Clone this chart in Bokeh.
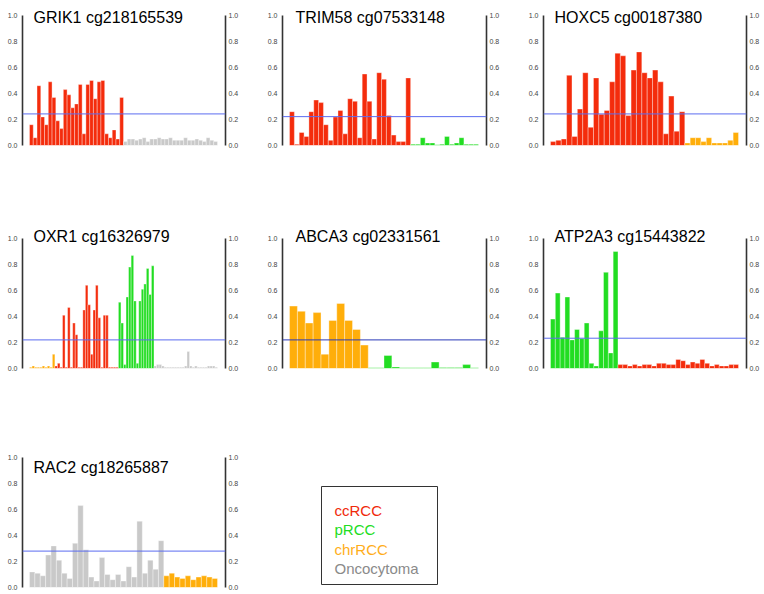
from bokeh.plotting import figure
from bokeh.models import Range1d, LinearAxis, FixedTicker, NumeralTickFormatter, Span, Label, ColumnDataSource
from bokeh.layouts import gridplot
from bokeh.embed import file_html
from bokeh.resources import INLINE

# ---------------- data ----------------
group_names = ["ccRCC", "pRCC", "chrRCC", "Oncocytoma"]
y_ticks = [0.0, 0.2, 0.4, 0.6, 0.8, 1.0]

grik1_cc = [0.16, 0.06, 0.46, 0.22, 0.16, 0.49, 0.37, 0.19, 0.13, 0.43, 0.39, 0.29, 0.32,
            0.47, 0.09, 0.47, 0.50, 0.36, 0.49, 0.50, 0.09, 0.06, 0.12, 0.05, 0.37]
grik1_onc = [0.03, 0.05, 0.05, 0.04, 0.05, 0.06, 0.03, 0.05, 0.05, 0.06, 0.05, 0.05, 0.06,
             0.04, 0.04, 0.04, 0.06, 0.04, 0.04, 0.05, 0.04, 0.03, 0.06, 0.04, 0.03]

trim58_cc = [0.26, 0.01, 0.10, 0.07, 0.26, 0.35, 0.33, 0.16, 0.04, 0.22, 0.27, 0.09, 0.36,
             0.34, 0.06, 0.55, 0.34, 0.05, 0.56, 0.51, 0.23, 0.08, 0.03, 0.03, 0.52]
trim58_p = [0.01, 0.01, 0.06, 0.02, 0.02, 0.005, 0.01, 0.07, 0.01, 0.02, 0.06, 0.01, 0.01, 0.01]

hoxc5_cc = [0.03, 0.04, 0.05, 0.54, 0.07, 0.28, 0.56, 0.14, 0.52, 0.24, 0.27, 0.49, 0.71,
            0.69, 0.23, 0.58, 0.72, 0.56, 0.52, 0.58, 0.49, 0.09, 0.38, 0.11, 0.26]
hoxc5_chr = [0.02, 0.06, 0.06, 0.03, 0.06, 0.02, 0.02, 0.02, 0.04, 0.10]

oxr1_chr = [0.01, 0.02, 0.01, 0.01, 0.01, 0.02, 0.01, 0.02, 0.01, 0.11]
oxr1_cc = [0.02, 0.04, 0.01, 0.41, 0.01, 0.47, 0.01, 0.35, 0.26, 0.01, 0.01, 0.45, 0.64,
           0.49, 0.11, 0.45, 0.64, 0.39, 0.01, 0.41, 0.41, 0.01, 0.01, 0.01, 0.01]
oxr1_p = [0.51, 0.35, 0.03, 0.55, 0.78, 0.87, 0.52, 0.04, 0.52, 0.61, 0.65, 0.77, 0.57, 0.79]
oxr1_onc = [0.02, 0.03, 0.03, 0.02, 0.01, 0.01, 0.01, 0.01, 0.01, 0.01, 0.01, 0.01, 0.02,
            0.13, 0.02, 0.01, 0.02, 0.01, 0.01, 0.01, 0.01, 0.02, 0.02, 0.02, 0.01]

abca3_chr = [0.48, 0.44, 0.35, 0.43, 0.11, 0.37, 0.50, 0.37, 0.30, 0.18]
abca3_p = [0.005, 0.005, 0.10, 0.012, 0.005, 0.005, 0.005, 0.005, 0.05, 0.008, 0.008, 0.008, 0.03, 0.005]

atp2a3_p = [0.38, 0.58, 0.24, 0.55, 0.22, 0.30, 0.23, 0.35, 0.04, 0.02, 0.29, 0.74, 0.12, 0.90]
atp2a3_cc = [0.03, 0.03, 0.02, 0.03, 0.02, 0.03, 0.03, 0.02, 0.04, 0.04, 0.03, 0.03, 0.07,
             0.06, 0.03, 0.05, 0.04, 0.07, 0.04, 0.02, 0.03, 0.02, 0.02, 0.03, 0.03]

rac2_onc = [0.12, 0.11, 0.09, 0.25, 0.32, 0.21, 0.11, 0.07, 0.34, 0.63, 0.29, 0.08, 0.05,
            0.23, 0.10, 0.06, 0.10, 0.05, 0.16, 0.08, 0.51, 0.11, 0.21, 0.14, 0.36]
rac2_chr = [0.09, 0.11, 0.08, 0.07, 0.09, 0.06, 0.08, 0.09, 0.08, 0.07]

titles = ["GRIK1 cg218165539", "TRIM58 cg07533148", "HOXC5 cg00187380",
          "OXR1 cg16326979", "ABCA3 cg02331561", "ATP2A3 cg15443822",
          "RAC2 cg18265887"]
thresholds = [0.243, 0.222, 0.243, 0.22, 0.22, 0.233, 0.28]

# ---------------- style ----------------
COLORS = {"ccRCC": "#f42c0c", "pRCC": "#22dd22", "chrRCC": "#ffae0a", "Oncocytoma": "#c9c9c9"}
LEGEND_COLORS = {"ccRCC": "#f02a0a", "pRCC": "#22dd22", "chrRCC": "#ffae1a", "Oncocytoma": "#8a8a8a"}
FONT = "Liberation Sans"

COL_W = [252, 252, 258]
COL_L = [22, 30, 39]
COL_R = [27, 18, 16]
TITLE_DX = [11, 13, 11]
ROW_H = [222, 228, 142]
ROW_T = [0, 0, 7]
ROW_B = [77, 82, 5]
ROW_EXTRA = [15, 16, 0]      # head room (px) above the 1.0 line, for the titles
UNIT_PX = 130.0              # pixel height of 0..1
TITLE_Y = [0.987, 1.018, 0.921]


def style_axis(ax, standoff):
    ax.ticker = FixedTicker(ticks=y_ticks)
    ax.formatter = NumeralTickFormatter(format="0.0")
    ax.bounds = (0, 1)
    ax.axis_line_color = "#333333"
    ax.axis_line_width = 1.6
    ax.major_tick_line_color = None
    ax.minor_tick_line_color = None
    ax.major_tick_out = 0
    ax.major_tick_in = 0
    ax.major_label_standoff = standoff
    ax.major_label_text_font = FONT
    ax.major_label_text_font_size = "7px"
    ax.major_label_text_color = "#444444"


def base_fig(col, rw, x_range, y_range):
    p = figure(width=COL_W[col], height=ROW_H[rw], x_range=x_range, y_range=y_range,
               output_backend="svg", toolbar_location=None,
               x_axis_location=None, y_axis_location=None, title_location=None,
               min_border_left=COL_L[col], min_border_right=COL_R[col],
               min_border_top=ROW_T[rw], min_border_bottom=ROW_B[rw])
    p.outline_line_color = None
    p.xgrid.visible = False
    p.ygrid.visible = False
    return p


def make_panel(idx, segments, col, rw, thr_color="#5b6cf0"):
    vals, cols = [], []
    for seg, grp in segments:
        vals += seg
        cols += [COLORS[grp]] * len(seg)
    n = len(vals)
    x0 = -0.5 - n * 7.0 / 188.0
    x1 = n - 0.5 + n * 8.0 / 188.0
    p = base_fig(col, rw, Range1d(x0, x1), Range1d(0, 1 + ROW_EXTRA[rw] / UNIT_PX))
    lax = LinearAxis()
    style_axis(lax, 5)
    p.add_layout(lax, "left")
    rax = LinearAxis()
    style_axis(rax, 3)
    p.add_layout(rax, "right")

    src = ColumnDataSource(dict(x=list(range(n)), top=vals, color=cols))
    p.vbar(x="x", top="top", bottom=0, width=1.0, fill_color="color",
           line_color="white", line_width=0.5, line_alpha=0.7, source=src)
    p.add_layout(Span(location=thresholds[idx], dimension="width",
                      line_color=thr_color, line_width=1))
    p.add_layout(Label(x=x0, y=TITLE_Y[rw], x_offset=TITLE_DX[col], text=titles[idx],
                       text_font=FONT, text_font_size="16px",
                       text_baseline="alphabetic", text_color="black"))
    return p


p1 = make_panel(0, [(grik1_cc, "ccRCC"), (grik1_onc, "Oncocytoma")], 0, 0)
p2 = make_panel(1, [(trim58_cc, "ccRCC"), (trim58_p, "pRCC")], 1, 0)
p3 = make_panel(2, [(hoxc5_cc, "ccRCC"), (hoxc5_chr, "chrRCC")], 2, 0)
p4 = make_panel(3, [(oxr1_chr, "chrRCC"), (oxr1_cc, "ccRCC"), (oxr1_p, "pRCC"),
                    (oxr1_onc, "Oncocytoma")], 0, 1)
p5 = make_panel(4, [(abca3_chr, "chrRCC"), (abca3_p, "pRCC")], 1, 1, thr_color="#2a3ab8")
p6 = make_panel(5, [(atp2a3_p, "pRCC"), (atp2a3_cc, "ccRCC")], 2, 1)
p7 = make_panel(6, [(rac2_onc, "Oncocytoma"), (rac2_chr, "chrRCC")], 0, 2)

# legend box (pixel-like coordinates inside the frame, origin bottom-left)
leg_w = COL_W[1] - COL_L[1] - COL_R[1]
leg = base_fig(1, 2, Range1d(0, leg_w), Range1d(0, UNIT_PX))
leg.quad(left=[39], right=[155], bottom=[3], top=[101], fill_color=None,
         line_color="#333333", line_width=1)
for i, name in enumerate(group_names):
    leg.add_layout(Label(x=52, y=77 - 19.4 * i, text=name, text_font=FONT,
                         text_font_size="15px", text_baseline="alphabetic",
                         text_color=LEGEND_COLORS[name]))

grid = gridplot([[p1, p2, p3], [p4, p5, p6], [p7, leg, None]], toolbar_location=None)
open("out.html", "w").write(file_html(grid, INLINE))
